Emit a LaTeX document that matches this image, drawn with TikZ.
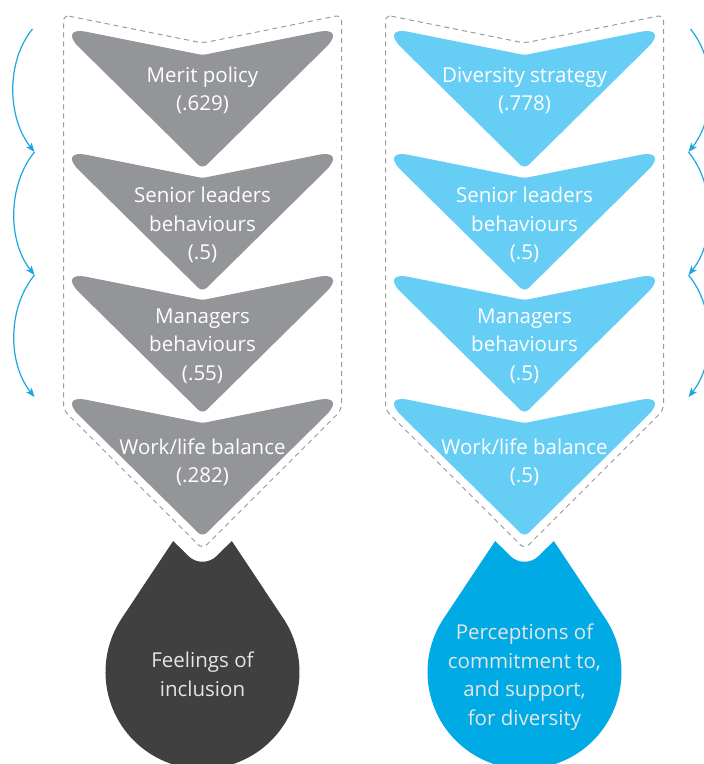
\documentclass[tikz,border=0pt]{standalone}
\usepackage{fontspec}
\setmainfont{Open Sans}
\usetikzlibrary{arrows.meta}
\definecolor{MeritGrey}{HTML}{939598}
\definecolor{DiversityBlue}{HTML}{66CEF5}
\definecolor{InclusionDark}{HTML}{404040}
\definecolor{CommitmentBlue}{HTML}{00AAE4}
\definecolor{FlowBlue}{HTML}{1AA6E0}
\definecolor{OutlineGrey}{HTML}{9A9A9A}

\begin{document}
\begin{tikzpicture}[x = 1pt, y = -1pt]
\tikzstyle{ChevronText}=[
align = center,
text = white,
inner sep = 0pt,
font = \fontsize{20.5}{28.5}\selectfont]
\tikzstyle{DropText}=[
ChevronText,
text = white!90!black]
\tikzstyle{OutlineStyle}=[
draw = OutlineGrey,
line width = 1pt,
dash pattern = on 5pt off 4pt,
rounded corners = 6pt]
\tikzstyle{FlowArrow}=[
draw = FlowBlue,
line width = 1.2pt,
-{Stealth[length = 9pt, width = 7pt, inset = 2pt]}]
\useasboundingbox (0,0) rectangle (704,764);
\clip (0,0) rectangle (704,764);
\draw[OutlineStyle] (63.5,15) -- (202.5,43) -- (341.5,15) -- (341.5,410) -- (202.5,549) -- (63.5,410) -- cycle;
\draw[OutlineStyle] (385.5,15) -- (524.5,43) -- (663.5,15) -- (663.5,410) -- (524.5,549) -- (385.5,410) -- cycle;
\fill[MeritGrey] (202.5,55) [rounded corners = 30pt] -- (347.5,26) [rounded corners = 6pt] -- (202.5,169) [rounded corners = 30pt] -- (57.5,26) [rounded corners = 3pt] -- cycle;
\fill[MeritGrey] (202.5,178) [rounded corners = 30pt] -- (347.5,149) [rounded corners = 6pt] -- (202.5,292) [rounded corners = 30pt] -- (57.5,149) [rounded corners = 3pt] -- cycle;
\fill[MeritGrey] (202.5,300) [rounded corners = 30pt] -- (347.5,271) [rounded corners = 6pt] -- (202.5,414) [rounded corners = 30pt] -- (57.5,271) [rounded corners = 3pt] -- cycle;
\fill[MeritGrey] (202.5,423) [rounded corners = 30pt] -- (347.5,394) [rounded corners = 6pt] -- (202.5,537) [rounded corners = 30pt] -- (57.5,394) [rounded corners = 3pt] -- cycle;
\fill[DiversityBlue] (524.5,55) [rounded corners = 30pt] -- (669.5,26) [rounded corners = 6pt] -- (524.5,169) [rounded corners = 30pt] -- (379.5,26) [rounded corners = 3pt] -- cycle;
\fill[DiversityBlue] (524.5,178) [rounded corners = 30pt] -- (669.5,149) [rounded corners = 6pt] -- (524.5,292) [rounded corners = 30pt] -- (379.5,149) [rounded corners = 3pt] -- cycle;
\fill[DiversityBlue] (524.5,300) [rounded corners = 30pt] -- (669.5,271) [rounded corners = 6pt] -- (524.5,414) [rounded corners = 30pt] -- (379.5,271) [rounded corners = 3pt] -- cycle;
\fill[DiversityBlue] (524.5,423) [rounded corners = 30pt] -- (669.5,394) [rounded corners = 6pt] -- (524.5,537) [rounded corners = 30pt] -- (379.5,394) [rounded corners = 3pt] -- cycle;
\fill[InclusionDark] (147.5,579.6) -- (121.8,618.2) arc[start angle = 213.7, end angle = -33.7, radius = 97] -- (231.8,541) [rounded corners = 20pt] -- (202.5,570) [sharp corners] -- (173.2,541) -- cycle;
\fill[CommitmentBlue] (469.5,579.6) -- (443.8,618.2) arc[start angle = 213.7, end angle = -33.7, radius = 97] -- (553.8,541) [rounded corners = 20pt] -- (524.5,570) [sharp corners] -- (495.2,541) -- cycle;
\node[ChevronText] (merit) at (202.5,90.5) {Merit policy\\(.629)};
\node[ChevronText] (seniorL) at (202.5,225) {Senior leaders\\behaviours\\(.5)};
\node[ChevronText] (managersL) at (202.5,346) {Managers\\behaviours\\(.55)};
\node[ChevronText] (worklifeL) at (202.5,462.5) {Work/life balance\\(.282)};
\node[ChevronText] (diversity) at (524.5,90.5) {Diversity strategy\\(.778)};
\node[ChevronText] (seniorR) at (524.5,225) {Senior leaders\\behaviours\\(.5)};
\node[ChevronText] (managersR) at (524.5,346) {Managers\\behaviours\\(.5)};
\node[ChevronText] (worklifeR) at (524.5,462.5) {Work/life balance\\(.5)};
\node[DropText] (inclusion) at (202.5,674) {Feelings of\\inclusion};
\node[DropText] (commitment) at (524.5,677) {Perceptions of\\commitment to,\\and support,\\for diversity};
\coordinate (aL0) at (32.5,29);
\coordinate (aL1) at (34.5,152);
\coordinate (aL2) at (34.5,275);
\coordinate (aL3) at (34.5,397);
\coordinate (aR0) at (690.5,29);
\coordinate (aR1) at (688.5,152);
\coordinate (aR2) at (688.5,275);
\coordinate (aR3) at (688.5,397);
\draw[FlowArrow] (aL0) .. controls +(-27,33) and +(-27,-34) .. (aL1);
\draw[FlowArrow] (aL1) .. controls +(-27,33) and +(-27,-34) .. (aL2);
\draw[FlowArrow] (aL2) .. controls +(-27,33) and +(-27,-34) .. (aL3);
\draw[FlowArrow] (aR0) .. controls +(27,33) and +(27,-34) .. (aR1);
\draw[FlowArrow] (aR1) .. controls +(27,33) and +(27,-34) .. (aR2);
\draw[FlowArrow] (aR2) .. controls +(27,33) and +(27,-34) .. (aR3);
\end{tikzpicture}
\end{document}
